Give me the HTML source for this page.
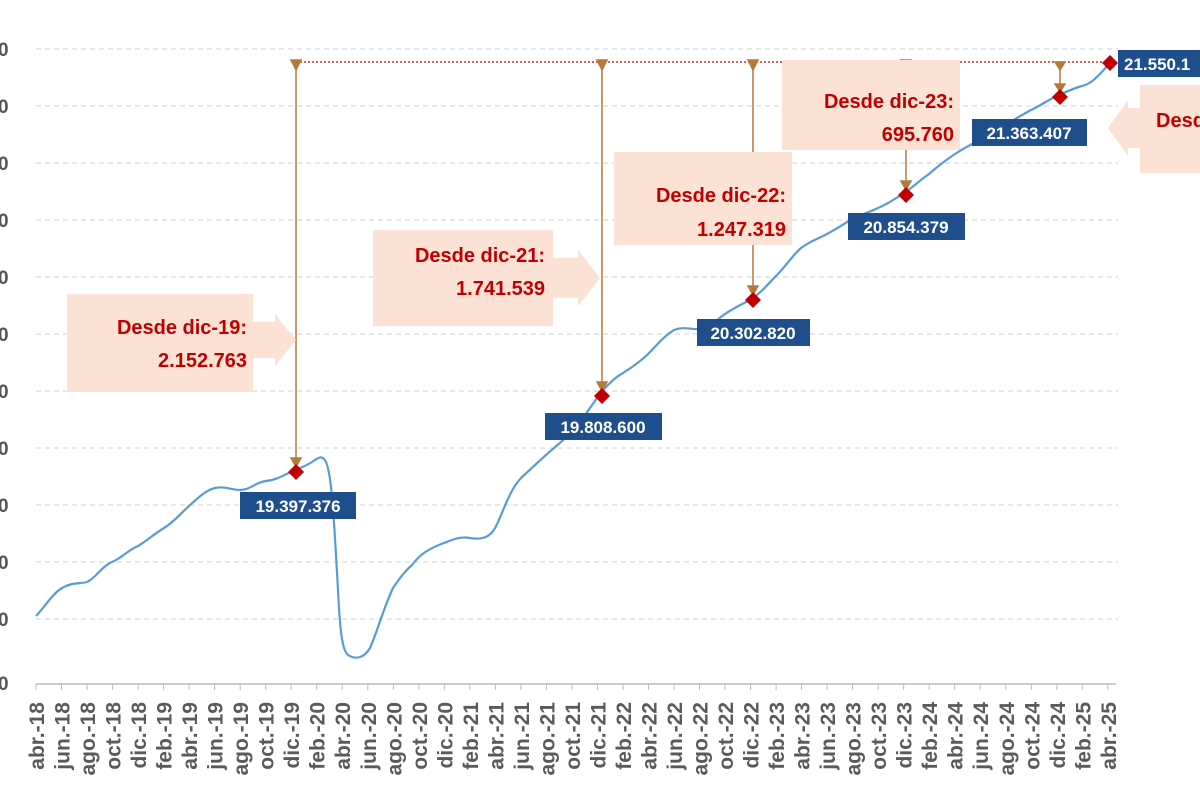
<!DOCTYPE html>
<html><head><meta charset="utf-8"><style>
html,body{margin:0;padding:0;background:#fff;}
svg{display:block;}
text{font-family:"Liberation Sans",sans-serif;font-weight:bold;}
.ax{fill:#555;font-size:19px;}
.xl text{fill:#5a5a5a;font-size:21px;font-weight:bold;}
.cl{fill:#c00000;font-size:20px;text-anchor:end;}
.bl{fill:#fff;font-size:17px;text-anchor:middle;}
</style></head><body>
<svg width="1200" height="800" viewBox="0 0 1200 800" xmlns="http://www.w3.org/2000/svg">
<g stroke="#d0d0d0" stroke-width="1" stroke-dasharray="5,4">
<line x1="36" y1="49" x2="1118" y2="49"/>
<line x1="36" y1="106" x2="1118" y2="106"/>
<line x1="36" y1="163" x2="1118" y2="163"/>
<line x1="36" y1="220" x2="1118" y2="220"/>
<line x1="36" y1="277" x2="1118" y2="277"/>
<line x1="36" y1="334" x2="1118" y2="334"/>
<line x1="36" y1="391" x2="1118" y2="391"/>
<line x1="36" y1="448" x2="1118" y2="448"/>
<line x1="36" y1="505" x2="1118" y2="505"/>
<line x1="36" y1="562" x2="1118" y2="562"/>
<line x1="36" y1="619" x2="1118" y2="619"/>
</g>
<line x1="36" y1="684" x2="1116" y2="684" stroke="#bbb" stroke-width="1.5"/>
<g class="ax">
<text x="-2" y="56">0</text><text x="-2" y="113">0</text><text x="-2" y="170">0</text><text x="-2" y="227">0</text><text x="-2" y="284">0</text><text x="-2" y="341">0</text><text x="-2" y="398">0</text><text x="-2" y="455">0</text><text x="-2" y="512">0</text><text x="-2" y="569">0</text><text x="-2" y="626">0</text><text x="-2" y="690">0</text>
</g>
<path stroke="#bbb" stroke-width="1" d="M36,684v6M61.5,684v6M87,684v6M112.6,684v6M138.1,684v6M163.6,684v6M189.1,684v6M214.6,684v6M240.2,684v6M265.7,684v6M291.2,684v6M316.7,684v6M342.2,684v6M367.8,684v6M393.3,684v6M418.8,684v6M444.3,684v6M469.8,684v6M495.4,684v6M520.9,684v6M546.4,684v6M571.9,684v6M597.4,684v6M623,684v6M648.5,684v6M674,684v6M699.5,684v6M725,684v6M750.6,684v6M776.1,684v6M801.6,684v6M827.1,684v6M852.6,684v6M878.2,684v6M903.7,684v6M929.2,684v6M954.7,684v6M980.2,684v6M1005.8,684v6M1031.3,684v6M1056.8,684v6M1082.3,684v6M1107.8,684v6"/>
<g class="xl" text-anchor="end">
<text transform="translate(44,702) rotate(-90)">abr.-18</text>
<text transform="translate(69.5,702) rotate(-90)">jun.-18</text>
<text transform="translate(95,702) rotate(-90)">ago.-18</text>
<text transform="translate(120.6,702) rotate(-90)">oct.-18</text>
<text transform="translate(146.1,702) rotate(-90)">dic.-18</text>
<text transform="translate(171.6,702) rotate(-90)">feb.-19</text>
<text transform="translate(197.1,702) rotate(-90)">abr.-19</text>
<text transform="translate(222.6,702) rotate(-90)">jun.-19</text>
<text transform="translate(248.2,702) rotate(-90)">ago.-19</text>
<text transform="translate(273.7,702) rotate(-90)">oct.-19</text>
<text transform="translate(299.2,702) rotate(-90)">dic.-19</text>
<text transform="translate(324.7,702) rotate(-90)">feb.-20</text>
<text transform="translate(350.2,702) rotate(-90)">abr.-20</text>
<text transform="translate(375.8,702) rotate(-90)">jun.-20</text>
<text transform="translate(401.3,702) rotate(-90)">ago.-20</text>
<text transform="translate(426.8,702) rotate(-90)">oct.-20</text>
<text transform="translate(452.3,702) rotate(-90)">dic.-20</text>
<text transform="translate(477.8,702) rotate(-90)">feb.-21</text>
<text transform="translate(503.4,702) rotate(-90)">abr.-21</text>
<text transform="translate(528.9,702) rotate(-90)">jun.-21</text>
<text transform="translate(554.4,702) rotate(-90)">ago.-21</text>
<text transform="translate(579.9,702) rotate(-90)">oct.-21</text>
<text transform="translate(605.4,702) rotate(-90)">dic.-21</text>
<text transform="translate(631,702) rotate(-90)">feb.-22</text>
<text transform="translate(656.5,702) rotate(-90)">abr.-22</text>
<text transform="translate(682,702) rotate(-90)">jun.-22</text>
<text transform="translate(707.5,702) rotate(-90)">ago.-22</text>
<text transform="translate(733,702) rotate(-90)">oct.-22</text>
<text transform="translate(758.6,702) rotate(-90)">dic.-22</text>
<text transform="translate(784.1,702) rotate(-90)">feb.-23</text>
<text transform="translate(809.6,702) rotate(-90)">abr.-23</text>
<text transform="translate(835.1,702) rotate(-90)">jun.-23</text>
<text transform="translate(860.6,702) rotate(-90)">ago.-23</text>
<text transform="translate(886.2,702) rotate(-90)">oct.-23</text>
<text transform="translate(911.7,702) rotate(-90)">dic.-23</text>
<text transform="translate(937.2,702) rotate(-90)">feb.-24</text>
<text transform="translate(962.7,702) rotate(-90)">abr.-24</text>
<text transform="translate(988.2,702) rotate(-90)">jun.-24</text>
<text transform="translate(1013.8,702) rotate(-90)">ago.-24</text>
<text transform="translate(1039.3,702) rotate(-90)">oct.-24</text>
<text transform="translate(1064.8,702) rotate(-90)">dic.-24</text>
<text transform="translate(1090.3,702) rotate(-90)">feb.-25</text>
<text transform="translate(1115.8,702) rotate(-90)">abr.-25</text>
</g>
<line x1="296" y1="62" x2="1110" y2="62" stroke="#c00000" stroke-width="1.2" stroke-dasharray="2,2"/>
<g stroke="#b5793a" stroke-width="1.5" fill="#b5793a">
<line x1="296" y1="64" x2="296" y2="464"/><path d="M291,60 L296,70 L301,60Z"/><path d="M291,458 L296,467 L301,458Z"/>
<line x1="602" y1="64" x2="602" y2="388"/><path d="M597,60 L602,70 L607,60Z"/><path d="M597,382 L602,391 L607,382Z"/>
<line x1="753" y1="64" x2="753" y2="292"/><path d="M748,60 L753,70 L758,60Z"/><path d="M748,286 L753,295 L758,286Z"/>
<line x1="906" y1="64" x2="906" y2="187"/><path d="M901,60 L906,70 L911,60Z"/><path d="M901,181 L906,190 L911,181Z"/>
<line x1="1060" y1="64" x2="1060" y2="89"/><path d="M1055,62 L1060,70 L1065,62Z"/><path d="M1055,84 L1060,92 L1065,84Z"/>
</g>
<g fill="#fbe2d5">
<rect x="67" y="294" width="186" height="98"/><path d="M253,322 L275,322 L275,314 L296,340 L275,366 L275,358 L253,358Z"/>
<rect x="373" y="230" width="180" height="96"/><path d="M553,258 L578,258 L578,250 L600,278 L578,306 L578,298 L553,298Z"/>
<rect x="614" y="152" width="178" height="93"/>
<rect x="782" y="60" width="178" height="90"/>
<rect x="1140" y="85" width="60" height="88"/><path d="M1140,108 L1128,108 L1128,100 L1108,128 L1128,156 L1128,148 L1140,148Z"/>
</g>
<text class="cl" x="247" y="334">Desde dic-19:</text><text class="cl" x="247" y="367">2.152.763</text>
<text class="cl" x="545" y="262">Desde dic-21:</text><text class="cl" x="545" y="295">1.741.539</text>
<text class="cl" x="786" y="202">Desde dic-22:</text><text class="cl" x="786" y="236">1.247.319</text>
<text class="cl" x="954" y="108">Desde dic-23:</text><text class="cl" x="954" y="141">695.760</text>
<text class="cl" x="1225" y="127" style="text-anchor:start" transform="translate(-69,0)">Desde</text>
<path fill="none" stroke="#5b9bd5" stroke-width="2.2" stroke-linejoin="round" d="M36,616 C44,608 52,594 62,588 C72,582 80,584 87,582 C96,578 102,566 112,562 C122,558 128,550 138,546 C148,540 154,534 164,528 C174,522 180,514 189,506 C198,498 206,490 215,488 C225,486 232,490 240,490 C250,490 256,482 266,481 C276,480 282,476 291,472 C300,468 306,466 312,462 C318,458 322,454 326,462 C332,476 334,520 338,590 C340,630 342,650 348,655 C356,660 364,658 370,648 C378,630 382,612 393,588 C400,578 404,572 412,565 C420,554 430,548 444,543 C452,540 460,536 470,538 C480,540 490,538 495,528 C502,516 508,492 521,478 C532,468 538,462 546,455 C556,446 566,438 572,432 C582,420 590,408 597,398 C606,386 614,378 623,373 C634,366 642,360 648,354 C658,344 664,336 674,330 C684,326 692,330 699,329 C710,328 716,320 725,314 C734,308 742,304 750,300 C760,294 768,284 776,276 C786,266 792,256 801,248 C812,240 820,238 827,234 C838,228 844,224 852,219 C862,214 870,212 878,208 C888,204 896,198 903,194 C912,188 920,180 929,174 C938,166 946,160 955,154 C964,148 972,144 980,140 C990,134 998,130 1006,125 C1016,118 1024,114 1031,110 C1040,106 1048,100 1057,96 C1066,92 1074,88 1082,86 C1092,84 1100,74 1110,63"/>
<g fill="#c00000">
<path d="M296,464 L304,472 L296,480 L288,472Z"/>
<path d="M602,388 L610,396 L602,404 L594,396Z"/>
<path d="M753,292 L761,300 L753,308 L745,300Z"/>
<path d="M906,187 L914,195 L906,203 L898,195Z"/>
<path d="M1060,89 L1068,97 L1060,105 L1052,97Z"/>
<path d="M1110,55 L1118,63 L1110,71 L1102,63Z"/>
</g>
<g fill="#1f4e8c">
<rect x="240" y="492" width="116" height="27"/>
<rect x="545" y="413" width="117" height="27"/>
<rect x="697" y="319" width="113" height="27"/>
<rect x="848" y="213" width="117" height="27"/>
<rect x="972" y="119" width="115" height="27"/>
<rect x="1118" y="50" width="90" height="27"/>
</g>
<text class="bl" x="298" y="512">19.397.376</text>
<text class="bl" x="603" y="433">19.808.600</text>
<text class="bl" x="753" y="339">20.302.820</text>
<text class="bl" x="906" y="233">20.854.379</text>
<text class="bl" x="1029" y="139">21.363.407</text>
<text class="bl" x="1124" y="70" style="text-anchor:start">21.550.1</text>
</svg>
</body></html>
